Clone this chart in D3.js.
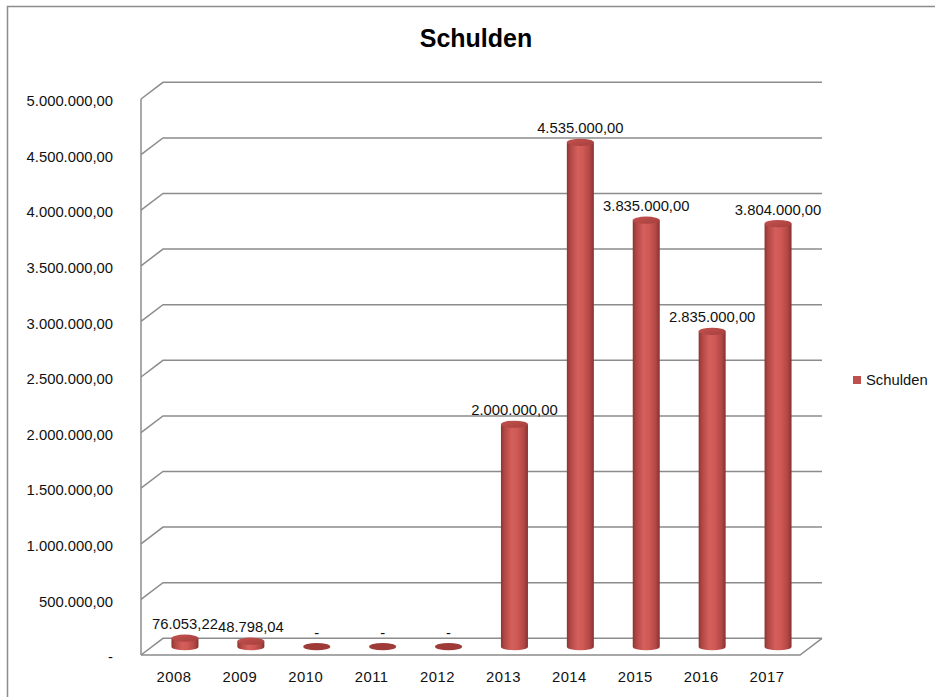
<!DOCTYPE html>
<html>
<head>
<meta charset="utf-8">
<script src="https://cdn.jsdelivr.net/npm/d3@7"></script>
<style>
  body { margin: 0; background: #fff; }
  svg { display: block; font-family: "Liberation Sans", Arial, sans-serif; }
</style>
</head>
<body>
<div id="chart"></div>
<script>
// Daten
const years = ["2008", "2009", "2010", "2011", "2012", "2013", "2014", "2015", "2016", "2017"];
const schulden = [76053.22, 48798.04, 0, 0, 0, 2000000, 4535000, 3835000, 2835000, 3804000];
const yTicks = [0, 500000, 1000000, 1500000, 2000000, 2500000, 3000000, 3500000, 4000000, 4500000, 5000000];
const seriesName = "Schulden";
const chartTitle = "Schulden";

const width = 935;
const height = 697;

// Tiefe der 3D-Darstellung
const depthX = 22;
const depthY = -16.7;

const de = d3.formatLocale({ decimal: ",", thousands: ".", grouping: [3], currency: ["", " €"] });
const fmt = v => v === 0 ? "-" : de.format(",.2f")(v);

const svg = d3.select("#chart")
  .append("svg")
  .attr("width", width)
  .attr("height", height);

// Rahmen
svg.append("path")
  .attr("d", `M7.5,${height} L7.5,6.5 L${width},6.5`)
  .attr("fill", "none")
  .attr("stroke", "#8c8c8c")
  .attr("stroke-width", 1.5);

// Titel
svg.append("text")
  .attr("x", 476)
  .attr("y", 47)
  .attr("text-anchor", "middle")
  .attr("font-size", 25)
  .attr("font-weight", "bold")
  .text(chartTitle);

// Skalen (vordere Ebene)
const x = d3.scaleBand()
  .domain(years)
  .range([141, 800]);

const y = d3.scaleLinear()
  .domain([0, 5000000])
  .range([655, 99]);

// Gradienten
const defs = svg.append("defs");
const sideGrad = defs.append("linearGradient").attr("id", "cyl").attr("x1", 0).attr("x2", 1).attr("y1", 0).attr("y2", 0);
[[0, "#8a3532"], [0.12, "#b04643"], [0.4, "#d45f5b"], [0.6, "#cf5955"], [0.85, "#b24744"], [1, "#853230"]]
  .forEach(([o, c]) => sideGrad.append("stop").attr("offset", o).attr("stop-color", c));
const topGrad = defs.append("linearGradient").attr("id", "cyltop").attr("x1", 0).attr("x2", 1).attr("y1", 0).attr("y2", 1);
[[0, "#c4524f"], [1, "#a53f3c"]]
  .forEach(([o, c]) => topGrad.append("stop").attr("offset", o).attr("stop-color", c));

// Gitterlinien (Seitenwand + Rückwand)
const grid = svg.append("g").attr("fill", "none").attr("stroke", "#8c8c8c").attr("stroke-width", 1.5);

grid.selectAll(".grid")
  .data(yTicks)
  .enter()
  .append("path")
  .attr("class", "grid")
  .attr("d", d => `M${x.range()[0]},${y(d)} L${x.range()[0] + depthX},${y(d) + depthY} L${x.range()[1] + depthX},${y(d) + depthY}`);

// Boden
grid.append("path")
  .attr("d", `M${x.range()[0]},${y(0)} L${x.range()[1]},${y(0)} L${x.range()[1] + depthX},${y(0) + depthY}`);

// Senkrechte Achse
grid.append("path")
  .attr("d", `M${x.range()[0]},${y(5000000)} L${x.range()[0]},${y(0)}`);

// Achsen
const yAxis = svg.append("g")
  .attr("transform", `translate(${x.range()[0]},2)`)
  .call(d3.axisLeft(y).tickValues(yTicks).tickFormat(fmt).tickSize(0).tickPadding(28));
yAxis.select(".domain").remove();
yAxis.selectAll("text").attr("font-size", 14.8).attr("fill", "#111").attr("font-family", "Liberation Sans, Arial, sans-serif");

const xAxis = svg.append("g")
  .attr("transform", `translate(0,${y(0)})`)
  .call(d3.axisBottom(x).tickSize(0).tickPadding(16.5));
xAxis.select(".domain").remove();
xAxis.selectAll("text").attr("font-size", 14.8).attr("fill", "#111").attr("letter-spacing", 0.5).attr("font-family", "Liberation Sans, Arial, sans-serif");

// Zylinder
const rx = 13.5;
const ry = 3.6;
const cx = d => x(d) + x.bandwidth() / 2 + depthX / 2;
const yMid = v => y(v) + depthY / 2;

const bars = svg.append("g").selectAll(".bar")
  .data(years.map((yr, i) => ({ year: yr, value: schulden[i] })))
  .enter()
  .append("g")
  .attr("class", "bar");

bars.filter(d => d.value > 0)
  .append("path")
  .attr("fill", "url(#cyl)")
  .attr("d", d => {
    const c = cx(d.year), t = yMid(d.value), b = yMid(0);
    return `M${c - rx},${t} L${c - rx},${b} A${rx},${ry} 0 0 0 ${c + rx},${b} L${c + rx},${t} Z`;
  });

bars.append("ellipse")
  .attr("cx", d => cx(d.year))
  .attr("cy", d => yMid(d.value))
  .attr("rx", rx)
  .attr("ry", ry)
  .attr("fill", d => d.value > 0 ? "url(#cyltop)" : "#9e3a37");

// Datenbeschriftungen
bars.append("text")
  .attr("x", d => cx(d.year))
  .attr("y", d => yMid(d.value) - 9)
  .attr("text-anchor", "middle")
  .attr("font-size", 14.8)
  .attr("fill", "#111")
  .text(d => fmt(d.value));

// Legende
const legend = svg.append("g").attr("transform", "translate(853,376)");
legend.append("rect")
  .attr("width", 8)
  .attr("height", 8)
  .attr("fill", "#c0504d");
legend.append("text")
  .attr("x", 13)
  .attr("y", 9)
  .attr("font-size", 14.8)
  .attr("fill", "#111")
  .text(seriesName);
</script>
</body>
</html>
